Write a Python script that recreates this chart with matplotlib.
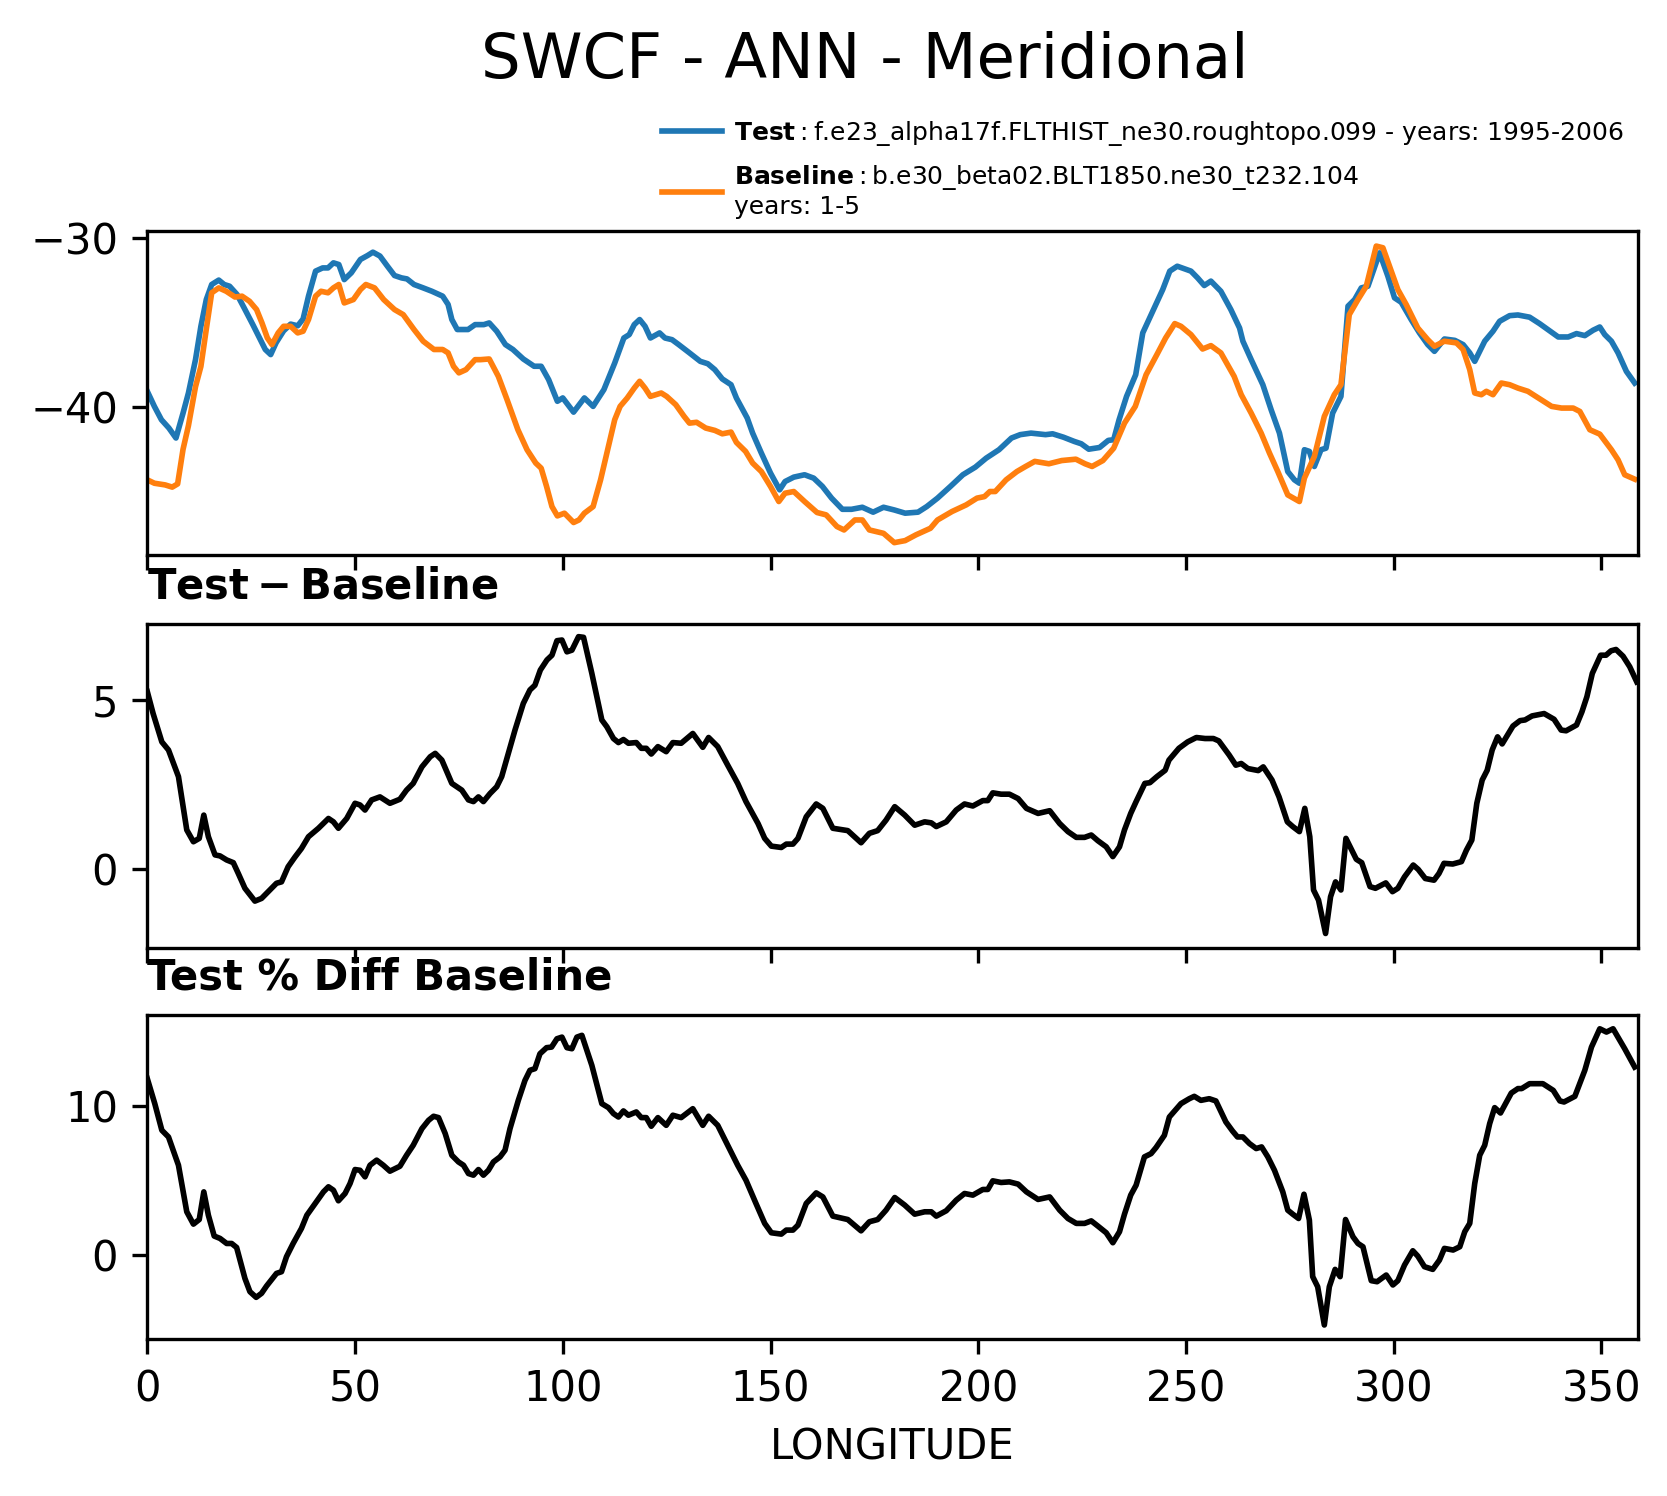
import matplotlib
matplotlib.use("Agg")
import matplotlib.pyplot as plt
from matplotlib.ticker import MultipleLocator

# ---------------- data ----------------
test_lon = [0, 1.7, 3.4, 5.2, 6.9, 8.6, 9.9, 11.6, 12.9, 14.2, 15.5, 17.2, 18.5, 19.8, 21.6, 23.3,
            25.4, 27.2, 28.4, 29.7, 31.0, 32.8, 34.5, 36.2, 37.5, 38.8, 40.5, 42.2, 43.5, 44.8, 46.1,
            47.4, 49.1, 51.3, 53.0, 54.3, 56.0, 57.8, 59.5, 61.2, 62.5, 64.2, 66.4, 68.5, 71.1, 72.4,
            73.3, 74.6, 77.2, 78.9, 81.0, 82.3, 84.1, 86.2, 88.0, 90.5, 93.1, 94.8, 96.6, 98.7, 100.0,
            102.6, 105.2, 107.3, 109.9, 112.5, 114.7, 116.0, 117.2, 118.5, 119.8, 121.1, 123.3, 124.6,
            126.3, 127.9, 130.5, 133.1, 134.9, 136.6, 138.4, 140.5, 141.8, 144.4, 145.7, 147.8, 150.0,
            152.2, 153.5, 155.6, 158.2, 160.4, 162.5, 164.7, 167.3, 169.5, 172.1, 174.7, 177.2, 179.8,
            182.4, 185.5, 187.6, 190.2, 193.3, 196.3, 199.3, 201.9, 205.0, 208.0, 210.1, 212.7, 216.2,
            217.9, 220.5, 223.1, 224.8, 226.6, 229.2, 231.3, 232.6, 233.9, 235.7, 237.9, 239.6, 242.2,
            244.4, 246.1, 247.9, 251.2, 252.8, 254.4, 256.0, 258.4, 260.8, 262.9, 263.7, 265.7, 268.5,
            270.5, 272.5, 274.5, 276.1, 277.3, 278.5, 279.7, 280.9, 282.5, 283.7, 285.3, 287.3, 289.0,
            290.6, 292.2, 293.8, 296.6, 298.6, 300.2, 301.8, 304.2, 306.2, 308.2, 309.8, 312.2, 314.7,
            316.7, 318.3, 319.5, 321.9, 323.9, 325.5, 327.9, 329.9, 332.7, 335.1, 337.1, 339.6, 342.0,
            344.0, 346.0, 348.0, 349.6, 350.8, 352.4, 354.0, 356.0, 358.0]
test_val = [-39.07, -39.96, -40.75, -41.24, -41.83, -40.36, -39.17, -37.2, -35.23, -33.65, -32.76,
            -32.5, -32.76, -32.86, -33.35, -34.14, -35.13, -36.02, -36.6, -36.9, -36.2, -35.5, -35.1,
            -35.2, -34.8, -33.45, -31.97, -31.78, -31.78, -31.48, -31.58, -32.47, -32.07, -31.28,
            -31.05, -30.85, -31.08, -31.68, -32.23, -32.37, -32.43, -32.76, -32.96, -33.16, -33.45,
            -33.94, -34.83, -35.42, -35.42, -35.13, -35.13, -35.03, -35.52, -36.31, -36.6, -37.16,
            -37.59, -37.59, -38.38, -39.66, -39.46, -40.3, -39.46, -39.96, -38.97, -37.4, -35.92,
            -35.72, -35.13, -34.83, -35.23, -35.92, -35.62, -35.92, -36.02, -36.31, -36.8, -37.3,
            -37.44, -37.79, -38.34, -38.68, -39.47, -40.65, -41.54, -42.72, -43.9, -44.89, -44.4,
            -44.14, -44.0, -44.2, -44.69, -45.38, -46.04, -46.04, -45.92, -46.21, -45.92, -46.08,
            -46.27, -46.21, -45.88, -45.38, -44.69, -44.0, -43.55, -43.02, -42.52, -41.83, -41.63,
            -41.54, -41.63, -41.58, -41.78, -42.03, -42.17, -42.49, -42.39, -41.97, -41.93, -40.75,
            -39.37, -38.09, -35.62, -34.24, -33.06, -31.97, -31.68, -31.97, -32.37, -32.82, -32.56,
            -33.16, -34.24, -35.33, -36.11, -37.2, -38.68, -40.16, -41.54, -43.81, -44.3, -44.5,
            -42.52, -42.62, -43.51, -42.52, -42.43, -40.36, -39.37, -34.04, -33.65, -32.96, -32.86,
            -30.89, -32.27, -33.55, -33.81, -34.83, -35.62, -36.31, -36.71, -35.98, -36.06, -36.31,
            -36.8, -37.3, -36.11, -35.52, -34.93, -34.6, -34.56, -34.69, -35.07, -35.42, -35.86,
            -35.86, -35.66, -35.78, -35.46, -35.27, -35.72, -36.11, -36.8, -37.89, -38.58]

base_lon = [0, 1.7, 4.3, 6.0, 7.3, 8.6, 9.9, 11.6, 12.9, 14.2, 15.5, 17.2, 19.0, 21.1, 22.8, 24.6,
            26.3, 27.6, 28.9, 30.0, 31.5, 32.8, 34.5, 36.2, 37.5, 38.8, 40.5, 41.8, 43.5, 44.8, 46.1,
            47.4, 49.6, 51.3, 52.6, 54.7, 56.9, 59.5, 61.6, 64.2, 66.4, 69.0, 71.1, 72.4, 73.7, 75.0,
            76.7, 78.9, 80.2, 82.3, 84.5, 86.6, 89.2, 91.4, 93.5, 94.8, 96.1, 97.4, 98.7, 100.4, 102.6,
            103.9, 105.2, 107.3, 109.1, 110.8, 112.5, 113.8, 115.5, 117.2, 118.5, 119.8, 121.1, 123.7,
            125.0, 127.2, 129.2, 130.5, 132.2, 134.4, 136.6, 138.4, 140.5, 141.8, 144.0, 145.7, 147.8,
            150.0, 152.0, 153.5, 155.6, 158.2, 161.2, 163.4, 166.0, 167.7, 170.3, 172.1, 173.8, 177.2,
            179.8, 182.4, 185.0, 188.5, 190.2, 193.7, 197.1, 199.7, 201.5, 202.8, 204.1, 206.7, 209.3,
            211.4, 213.6, 217.0, 220.1, 223.5, 225.7, 227.4, 230.0, 232.6, 235.2, 237.8, 240.4, 243.0,
            245.1, 247.3, 248.8, 251.2, 254.0, 256.0, 258.4, 261.6, 263.3, 265.7, 268.1, 270.1, 272.1,
            274.5, 277.3, 278.5, 280.9, 283.3, 285.7, 287.3, 289.3, 291.4, 293.4, 295.8, 297.4, 301.0,
            303.0, 305.8, 308.2, 309.8, 312.2, 315.1, 316.7, 318.3, 319.5, 321.1, 322.3, 323.9, 325.9,
            327.9, 329.9, 332.3, 335.5, 338.0, 340.4, 343.2, 344.8, 347.2, 349.6, 352.4, 354.0, 355.6,
            358.0]
base_val = [-44.3, -44.5, -44.6, -44.73, -44.54, -42.5, -41.1, -38.8, -37.6, -35.4, -33.25, -32.96,
            -33.16, -33.5, -33.45, -33.75, -34.24, -35.03, -35.92, -36.31, -35.62, -35.23, -35.23,
            -35.62, -35.52, -34.83, -33.45, -33.16, -33.25, -32.96, -32.76, -33.85, -33.65, -33.06,
            -32.76, -32.96, -33.65, -34.24, -34.54, -35.42, -36.11, -36.6, -36.6, -36.8, -37.59,
            -37.98, -37.79, -37.2, -37.2, -37.16, -38.19, -39.57, -41.34, -42.52, -43.31, -43.61,
            -44.69, -45.88, -46.43, -46.27, -46.82, -46.67, -46.27, -45.88, -44.3, -42.52, -40.75,
            -39.96, -39.47, -38.88, -38.48, -38.88, -39.37, -39.17, -39.37, -39.86, -40.55, -40.95,
            -40.9, -41.24, -41.38, -41.58, -41.48, -42.09, -42.62, -43.31, -43.81, -44.69, -45.58,
            -45.09, -44.99, -45.58, -46.23, -46.37, -47.06, -47.26, -46.67, -46.67, -47.26, -47.46,
            -48.01, -47.89, -47.55, -47.16, -46.67, -46.17, -45.78, -45.38, -45.29, -44.99, -44.99,
            -44.3, -43.81, -43.51, -43.21, -43.35, -43.16, -43.08, -43.35, -43.51, -43.16, -42.43,
            -40.95, -39.96, -38.09, -36.9, -35.92, -35.07, -35.23, -35.72, -36.57, -36.37, -36.8,
            -38.19, -39.27, -40.36, -41.54, -42.72, -43.81, -45.19, -45.58, -44.2, -42.92, -40.55,
            -39.27, -38.68, -34.54, -33.65, -32.86, -30.49, -30.59, -33.06, -33.94, -35.33, -36.02,
            -36.41, -36.11, -36.21, -36.6, -37.79, -39.17, -39.27, -39.07, -39.27, -38.58, -38.68,
            -38.88, -39.07, -39.57, -39.96, -40.06, -40.06, -40.26, -41.34, -41.6, -42.52, -43.12,
            -44.0, -44.26]

diff_lon = [0, 1.4, 3.5, 5.1, 7.5, 9.5, 11.1, 12.5, 13.6, 14.7, 16.3, 17.5, 19.1, 20.7, 21.9, 23.5,
            25.9, 27.5, 29.5, 31.1, 32.3, 33.9, 35.5, 37.1, 38.8, 41.2, 43.6, 44.8, 46.0, 48.0, 50.0,
            51.2, 52.4, 54.0, 56.0, 58.4, 60.8, 62.4, 64.0, 66.1, 68.1, 69.3, 70.9, 73.3, 75.7, 77.3,
            78.5, 79.7, 80.9, 82.5, 84.1, 85.3, 86.9, 88.5, 90.5, 92.1, 93.3, 94.6, 96.2, 97.4, 98.6,
            99.8, 101.0, 102.2, 103.8, 105.0, 107.0, 109.4, 110.6, 112.2, 113.4, 114.6, 115.8, 117.7,
            118.9, 120.1, 121.3, 122.9, 124.9, 126.5, 128.5, 131.3, 133.7, 135.1, 137.3, 139.7, 142.1,
            144.1, 147.0, 148.6, 150.2, 152.6, 153.8, 155.4, 156.6, 158.6, 161.0, 162.6, 165.0, 168.6,
            171.8, 173.8, 175.8, 177.8, 179.9, 182.3, 184.7, 187.1, 188.7, 189.9, 192.3, 194.7, 196.7,
            198.7, 201.1, 202.3, 203.5, 205.5, 207.5, 209.6, 211.6, 214.4, 217.2, 219.6, 221.6, 223.6,
            225.6, 227.2, 228.8, 230.8, 232.4, 234.0, 235.2, 236.7, 238.0, 240.1, 241.3, 243.0, 245.0,
            245.9, 248.3, 250.4, 252.5, 254.6, 256.6, 257.9, 260.4, 262.0, 263.3, 264.9, 267.4, 268.6,
            270.7, 272.4, 274.4, 275.7, 277.3, 278.6, 279.8, 280.7, 281.9, 283.6, 284.8, 286.0, 287.3,
            288.5, 291.0, 292.3, 294.3, 295.6, 298.1, 299.7, 301.0, 302.6, 304.7, 305.9, 307.6, 309.7,
            310.9, 312.1, 314.2, 316.3, 317.5, 318.8, 320.0, 321.3, 322.5, 323.7, 325.0, 326.1, 328.7,
            330.4, 331.6, 333.3, 336.2, 338.6, 340.3, 341.5, 344.0, 345.3, 346.5, 347.8, 349.8, 351.1,
            352.3, 353.5, 355.2, 356.8, 358.5]
diff_val = [5.25, 4.6, 3.76, 3.52, 2.73, 1.15, 0.8, 0.9, 1.59, 0.95, 0.41, 0.38, 0.26, 0.18, -0.14,
            -0.58, -0.96, -0.88, -0.63, -0.43, -0.39, 0.06, 0.34, 0.6, 0.95, 1.2, 1.49, 1.39, 1.2,
            1.49, 1.94, 1.89, 1.74, 2.04, 2.13, 1.94, 2.06, 2.33, 2.53, 3.02, 3.32, 3.42, 3.22, 2.53,
            2.33, 2.04, 1.99, 2.13, 1.99, 2.23, 2.43, 2.73, 3.42, 4.11, 4.9, 5.3, 5.44, 5.89, 6.19,
            6.33, 6.76, 6.78, 6.43, 6.48, 6.88, 6.86, 5.79, 4.41, 4.21, 3.86, 3.74, 3.83, 3.72, 3.74,
            3.57, 3.57, 3.4, 3.62, 3.47, 3.74, 3.72, 4.01, 3.6, 3.89, 3.62, 3.07, 2.53, 1.99, 1.34,
            0.9, 0.67, 0.63, 0.73, 0.73, 0.9, 1.54, 1.92, 1.79, 1.2, 1.13, 0.77, 1.05, 1.13, 1.44,
            1.84, 1.59, 1.29, 1.39, 1.36, 1.25, 1.39, 1.74, 1.92, 1.86, 2.02, 2.02, 2.25, 2.21, 2.21,
            2.08, 1.79, 1.64, 1.72, 1.34, 1.1, 0.93, 0.93, 1.0, 0.83, 0.65, 0.36, 0.65, 1.15, 1.64,
            1.99, 2.53, 2.55, 2.73, 2.92, 3.22, 3.57, 3.76, 3.89, 3.86, 3.86, 3.79, 3.37, 3.07, 3.12,
            2.97, 2.91, 3.02, 2.63, 2.13, 1.39, 1.25, 1.1, 1.79, 0.95, -0.63, -0.93, -1.92, -0.83,
            -0.39, -0.63, 0.9, 0.28, 0.18, -0.53, -0.58, -0.42, -0.68, -0.58, -0.24, 0.11, -0.02,
            -0.29, -0.34, -0.14, 0.16, 0.14, 0.21, 0.55, 0.85, 1.94, 2.63, 2.92, 3.52, 3.91, 3.7,
            4.23, 4.39, 4.41, 4.53, 4.6, 4.43, 4.11, 4.09, 4.26, 4.65, 5.1, 5.79, 6.33, 6.33, 6.46,
            6.5, 6.3, 5.99, 5.54]

pct_lon = [0, 1.8, 3.5, 5.1, 7.5, 9.5, 11.1, 12.5, 13.6, 14.7, 16.1, 17.5, 19.1, 20.3, 21.5, 23.5,
           24.7, 26.2, 27.5, 28.7, 31.1, 32.3, 33.5, 35.1, 37.1, 38.4, 40.4, 42.4, 43.6, 44.8, 46.0,
           47.6, 48.8, 50.0, 51.2, 52.4, 53.6, 55.2, 56.8, 58.4, 60.8, 62.4, 64.0, 66.1, 67.7, 68.9,
           70.1, 71.7, 73.3, 74.9, 76.1, 77.3, 78.5, 79.7, 80.9, 82.1, 83.3, 84.9, 86.1, 87.3, 89.3,
           90.9, 92.1, 93.3, 94.5, 96.1, 97.3, 98.6, 99.8, 101.0, 102.2, 103.4, 104.6, 107.0, 109.4,
           111.0, 112.2, 113.4, 114.6, 115.8, 117.7, 118.9, 120.1, 121.3, 122.9, 124.9, 126.5, 128.5,
           131.3, 133.7, 135.1, 137.3, 139.7, 142.1, 144.1, 146.5, 148.6, 150.2, 152.6, 153.8, 155.4,
           156.6, 158.6, 161.0, 162.6, 165.0, 168.6, 171.8, 173.8, 175.8, 177.8, 179.9, 182.3, 184.7,
           187.1, 188.7, 189.9, 192.3, 194.7, 196.7, 198.7, 201.1, 202.3, 203.5, 205.5, 207.5, 209.6,
           211.6, 214.4, 217.2, 219.6, 221.6, 223.6, 225.6, 227.2, 228.8, 230.8, 232.4, 234.0, 235.2,
           236.7, 238.0, 240.0, 241.6, 242.8, 244.8, 246.0, 248.8, 250.8, 252.0, 253.6, 255.6, 257.2,
           259.6, 261.2, 262.4, 263.7, 265.3, 266.9, 268.2, 269.7, 271.3, 273.3, 274.5, 275.7, 277.1,
           278.4, 279.7, 280.5, 281.7, 283.3, 284.5, 285.9, 287.1, 288.4, 290.2, 291.4, 292.6, 294.6,
           296.0, 298.2, 299.8, 301.0, 302.6, 304.6, 305.8, 307.4, 309.4, 311.0, 312.2, 314.3, 315.9,
           317.1, 318.3, 319.5, 320.7, 321.9, 323.1, 324.3, 325.7, 328.3, 329.9, 330.8, 332.7, 335.9,
           338.4, 340.0, 341.0, 343.6, 346.0, 347.6, 349.6, 351.2, 352.8, 355.6, 358.0]
pct_val = [11.86, 10.18, 8.39, 7.94, 6.04, 2.91, 2.08, 2.39, 4.25, 2.68, 1.28, 1.12, 0.78, 0.78, 0.51,
           -1.57, -2.46, -2.84, -2.57, -2.08, -1.23, -1.12, -0.11, 0.78, 1.79, 2.68, 3.47, 4.25, 4.59,
           4.36, 3.65, 4.14, 4.81, 5.75, 5.7, 5.26, 6.04, 6.38, 6.04, 5.64, 5.97, 6.71, 7.38, 8.5,
           9.06, 9.33, 9.24, 8.17, 6.71, 6.26, 6.04, 5.48, 5.37, 5.75, 5.37, 5.7, 6.26, 6.6, 7.05,
           8.5, 10.4, 11.74, 12.42, 12.53, 13.53, 13.94, 13.98, 14.54, 14.65, 13.94, 13.87, 14.65,
           14.77, 12.75, 10.18, 9.91, 9.51, 9.28, 9.69, 9.4, 9.62, 9.24, 9.24, 8.66, 9.24, 8.72, 9.4,
           9.24, 9.84, 8.72, 9.33, 8.72, 7.38, 6.04, 5.03, 3.47, 2.13, 1.5, 1.41, 1.68, 1.68, 2.01,
           3.47, 4.18, 3.91, 2.62, 2.39, 1.63, 2.24, 2.39, 3.02, 3.87, 3.36, 2.75, 2.91, 2.91, 2.62,
           2.98, 3.69, 4.14, 4.03, 4.41, 4.41, 4.99, 4.88, 4.92, 4.77, 4.25, 3.74, 3.91, 3.02, 2.46,
           2.13, 2.13, 2.3, 1.95, 1.5, 0.83, 1.57, 2.75, 4.03, 4.7, 6.6, 6.82, 7.23, 8.05, 9.28,
           10.18, 10.51, 10.67, 10.4, 10.51, 10.36, 8.95, 8.34, 7.94, 7.94, 7.49, 7.16, 7.27, 6.6,
           5.7, 4.25, 3.02, 2.75, 2.46, 4.09, 2.35, -1.45, -2.13, -4.7, -2.13, -0.96, -1.45, 2.39,
           1.23, 0.78, 0.56, -1.72, -1.79, -1.34, -2.01, -1.72, -0.67, 0.29, -0.07, -0.78, -0.96,
           -0.34, 0.45, 0.34, 0.56, 1.57, 2.13, 4.81, 6.71, 7.38, 8.84, 9.91, 9.55, 10.89, 11.19,
           11.19, 11.52, 11.52, 11.07, 10.36, 10.29, 10.67, 12.42, 13.98, 15.21, 14.99, 15.21, 13.87,
           12.64]

main_title = "SWCF - ANN - Meridional"
test_label = r"$\bf{Test}\rm{:}$" + "f.e23_alpha17f.FLTHIST_ne30.roughtopo.099 - years: 1995-2006"
base_label = r"$\bf{Baseline}\rm{:}$" + "b.e30_beta02.BLT1850.ne30_t232.104" + "\nyears: 1-5"
diff_title = r"$\bf{Test - Baseline}$"
pct_title = "Test % Diff Baseline"
x_label = "LONGITUDE"
x_ticks = [0, 50, 100, 150, 200, 250, 300, 350]

# ---------------- figure ----------------
W, H = 1668, 1496
DPI = 300
fig = plt.figure(figsize=(W / DPI, H / DPI), dpi=DPI)

left = 147.3 / W
width = (1637.8 - 147.3) / W
hgt = 324.5 / H

ax1 = fig.add_axes([left, 1 - 555.0 / H, width, hgt])
ax2 = fig.add_axes([left, 1 - 948.0 / H, width, hgt])
ax3 = fig.add_axes([left, 1 - 1339.0 / H, width, hgt])

lw = 1.35
ax1.plot(test_lon, test_val, color="#1f77b4", lw=lw, label=test_label)
ax1.plot(base_lon, base_val, color="#ff7f0e", lw=lw, label=base_label)
ax2.plot(diff_lon, diff_val, color="k", lw=lw)
ax3.plot(pct_lon, pct_val, color="k", lw=lw)

ax1.set_ylim(-48.74, -29.57)
ax2.set_ylim(-2.35, 7.27)
ax3.set_ylim(-5.64, 16.17)
ax1.yaxis.set_major_locator(MultipleLocator(10))
ax2.yaxis.set_major_locator(MultipleLocator(5))
ax3.yaxis.set_major_locator(MultipleLocator(10))

for ax in (ax1, ax2, ax3):
    ax.set_xlim(0, 358.75)
    ax.set_xticks(x_ticks)
    ax.tick_params(labelsize=10)
ax1.tick_params(labelbottom=False)
ax2.tick_params(labelbottom=False)

ax2.set_title(diff_title, loc="left", fontsize=10, fontweight="bold")
ax3.set_title(pct_title, loc="left", fontsize=10, fontweight="bold")
ax3.set_xlabel(x_label, fontsize=10)

fig.text(865 / W, 1 - 78 / H, main_title, ha="center", va="baseline", fontsize=15)

ax1.legend(loc="upper left", bbox_to_anchor=(662 / W, 1 - 118.5 / H),
           bbox_transform=fig.transFigure, frameon=False, fontsize=6,
           borderpad=0, borderaxespad=0, handlelength=2.4, handletextpad=0.5,
           labelspacing=0.6)

fig.savefig("out.png", dpi=DPI)
